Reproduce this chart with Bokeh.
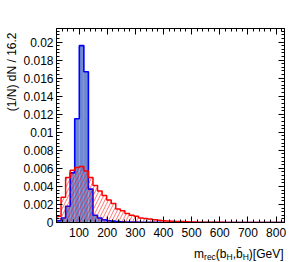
import numpy as np
from bokeh.plotting import figure
from bokeh.layouts import row, column
from bokeh.models import Range1d, FixedTicker, LinearAxis, Label, CustomJSTickFormatter
from bokeh.embed import file_html
from bokeh.resources import INLINE

# ---------------- data ----------------
bin_width = 16.2
x_start = 20.0
n_bins = 50

blue_vals = [0.0002, 0.0005, 0.0018, 0.0055, 0.0115, 0.0196, 0.0167, 0.0037, 0.0008, 0.0005,
             0.0003, 0.0002, 0.00015, 0.0001, 0.00008, 0.00006, 0.00005, 0.00004, 0.00003, 0.00002,
             0.00002, 0.00001, 0.00001, 0, 0, 0, 0, 0, 0, 0,
             0, 0, 0, 0, 0, 0, 0, 0, 0, 0,
             0, 0, 0, 0, 0, 0, 0, 0, 0, 0]

red_vals = [0.0007, 0.0028, 0.0050, 0.0058, 0.0061, 0.0062, 0.0057, 0.0050, 0.0041, 0.0035,
            0.0030, 0.0025, 0.0021, 0.0015, 0.0013, 0.0010, 0.0008, 0.0007, 0.0005, 0.00045,
            0.0004, 0.0003, 0.00025, 0.0002, 0.00018, 0.00015, 0.00012, 0.0001, 0.00008, 0.00006,
            0.00005, 0.00004, 0.00003, 0.00003, 0.00002, 0.00002, 0.00002, 0.00001, 0.00001, 0.00001,
            0, 0, 0, 0, 0, 0, 0, 0, 0, 0]

x_tick_values = [100, 200, 300, 400, 500, 600, 700, 800]
x_tick_labels = ["100", "200", "300", "400", "500", "600", "700", "800"]
y_tick_values = [0, 0.002, 0.004, 0.006, 0.008, 0.01, 0.012, 0.014, 0.016, 0.018, 0.02]
y_tick_labels = ["0", "0.002", "0.004", "0.006", "0.008", "0.01", "0.012", "0.014", "0.016", "0.018", "0.02"]

y_title = "(1/N) dN / 16.2"

FONT = "Liberation Sans"

# ---------------- main figure ----------------
edges = x_start + bin_width * np.arange(n_bins + 1)
left = edges[:-1]
right = edges[1:]

B_LEFT, B_RIGHT, B_TOP, B_BOTTOM = 34, 21, 28, 22

p = figure(width=285, height=244, x_range=Range1d(x_start, x_start + bin_width * n_bins),
           y_range=Range1d(0, 0.0215), output_backend="svg", toolbar_location=None,
           min_border_left=B_LEFT, min_border_right=B_RIGHT, min_border_top=B_TOP,
           min_border_bottom=B_BOTTOM, x_axis_location=None, y_axis_location=None)
p.xgrid.visible = False
p.ygrid.visible = False
p.outline_line_color = "black"
p.outline_line_width = 1
p.background_fill_color = "white"
p.border_fill_color = "white"


def step_path(vals):
    v = np.asarray(vals, dtype=float)
    xs = np.repeat(edges, 2)
    ys = np.concatenate([[0.0], np.repeat(v, 2), [0.0]])
    return xs, ys


# blue filled histogram
p.quad(left=left, right=right, top=blue_vals, bottom=0, fill_color="#7089d0", line_color=None)
bx, by = step_path(blue_vals)
p.line(bx, by, line_color="#0000ff", line_width=1.6)

# red hatched histogram
p.quad(left=left, right=right, top=red_vals, bottom=0, fill_color=None, line_color=None,
       hatch_pattern="/", hatch_color="#ff0000", hatch_alpha=0.55, hatch_scale=7, hatch_weight=1)
rx, ry = step_path(red_vals)
p.line(rx, ry, line_color="#ff0000", line_width=1.5)

# ---------------- axes ----------------
x_fmt = CustomJSTickFormatter(args=dict(vals=x_tick_values, labs=x_tick_labels), code="""
const i = vals.findIndex(v => Math.abs(v - tick) < 1e-6);
return i >= 0 ? labs[i] : '';
""")
y_fmt = CustomJSTickFormatter(args=dict(vals=y_tick_values, labs=y_tick_labels), code="""
const i = vals.findIndex(v => Math.abs(v - tick) < 1e-9);
return i >= 0 ? labs[i] : '';
""")
empty_fmt = CustomJSTickFormatter(code="return '';")

x_ticker = FixedTicker(ticks=x_tick_values, minor_ticks=list(np.arange(40, 830, 20)))
y_ticker = FixedTicker(ticks=y_tick_values, minor_ticks=list(np.arange(0, 0.0215, 0.0004)))


def style(ax, fmt, standoff):
    ax.formatter = fmt
    ax.major_tick_in = 6
    ax.major_tick_out = 0
    ax.minor_tick_in = 3
    ax.minor_tick_out = 0
    ax.axis_line_color = "black"
    ax.major_tick_line_color = "black"
    ax.minor_tick_line_color = "black"
    ax.major_label_text_font = FONT
    ax.major_label_text_font_size = "12px"
    ax.major_label_text_color = "black"
    ax.major_label_standoff = standoff


xb = LinearAxis(ticker=x_ticker)
style(xb, x_fmt, 5)
p.add_layout(xb, "below")
xt = LinearAxis(ticker=x_ticker)
style(xt, empty_fmt, 0)
p.add_layout(xt, "above")
yl = LinearAxis(ticker=y_ticker)
style(yl, y_fmt, 3)
p.add_layout(yl, "left")
yr = LinearAxis(ticker=y_ticker)
style(yr, empty_fmt, 0)
p.add_layout(yr, "right")


def text_panel(w, h, bl=0, br=0, bt=0, bb=0):
    f = figure(width=w, height=h, x_range=Range1d(0, 1), y_range=Range1d(0, 1),
               output_backend="svg", toolbar_location=None,
               min_border_left=bl, min_border_right=br, min_border_top=bt, min_border_bottom=bb,
               x_axis_location=None, y_axis_location=None)
    f.xgrid.visible = False
    f.ygrid.visible = False
    f.outline_line_color = None
    f.background_fill_color = "white"
    f.border_fill_color = "white"
    return f


# ---------------- y title panel (frame aligned with main frame: page y 28..222) ----------------
ypanel = text_panel(20, 244, bt=B_TOP, bb=B_BOTTOM)
ypanel.add_layout(Label(x=11, y=(244 - B_BOTTOM) - 32, x_units="screen", y_units="screen",
                        text=y_title, angle=np.pi / 2, text_align="right", text_baseline="middle",
                        text_font=FONT, text_font_size="12px", text_color="black"))

# ---------------- x title panel: m_rec(b_H,b̄_H)[GeV]; frame spans page x 34..284 ----------------
xpanel = text_panel(305, 18, bl=B_LEFT, br=B_RIGHT)
widths = {"m": 833, "r": 333, "e": 556, "c": 500, "(": 333, "b": 556, "H": 722, ",": 278,
          ")": 333, "[": 278, "G": 778, "V": 667, "]": 278, "\u0304": 0}
pieces = [("m", 12, 0), ("rec", 8.5, -3), ("(b", 12, 0), ("H", 8.5, -3), (",", 12, 0),
          ("b\u0304", 12, 0), ("H", 8.5, -3), (")[GeV]", 12, 0)]
total = sum(sum(widths[c] for c in t) / 1000 * s for t, s, _ in pieces)
cx = (283 - B_LEFT) - total
base_y = 9
for t, s, dy in pieces:
    xpanel.add_layout(Label(x=cx, y=base_y + dy, x_units="screen", y_units="screen", text=t,
                            text_align="left", text_baseline="alphabetic",
                            text_font=FONT, text_font_size=f"{s}px", text_color="black"))
    cx += sum(widths[c] for c in t) / 1000 * s

layout = column(row(ypanel, p), xpanel)
open("out.html", "w").write(file_html(layout, INLINE))
